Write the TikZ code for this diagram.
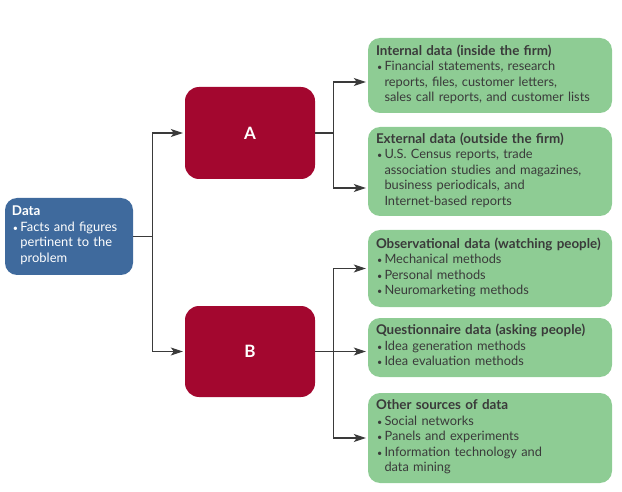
\documentclass[tikz,border=0pt]{standalone}
\usepackage{fontspec}
\setmainfont{Lato}
\usetikzlibrary{arrows.meta,positioning}
\definecolor{datablue}{HTML}{3F6A9D}
\definecolor{wine}{HTML}{A3072F}
\definecolor{leaf}{HTML}{8ECC94}
\definecolor{ink}{HTML}{3A3A3A}
\newcommand{\bul}[1]{\par\noindent\makebox[8.5pt][l]{\hspace{1pt}{\small\textbullet}}\begin{tabular}[t]{@{}l@{}}#1\end{tabular}}
\newcommand{\hd}[1]{{\fontsize{13.4}{15.5}\selectfont\bfseries #1}}
\tikzset{
  grp/.style={rounded corners=12pt, fill=leaf, text=ink, text width=228pt,
    align=left, inner xsep=8pt, inner ysep=3pt, font=\fontsize{12.8}{15.5}\selectfont},
  kind/.style={rounded corners=14pt, fill=wine, text=white, minimum width=130pt,
    minimum height=92pt, font=\fontsize{17}{20}\selectfont\bfseries},
  conn/.style={draw=ink, line width=1.1pt},
  tip/.style={conn, -{Stealth[length=12pt,width=8pt,inset=3pt]}, shorten >=2pt}
}
\begin{document}
\begin{tikzpicture}[x=1pt,y=-1pt]
  \useasboundingbox (0,0) rectangle (622,492);
  \node[rounded corners=12pt, fill=datablue, text=white, text width=114pt, align=left,
    inner xsep=7pt, minimum height=77pt, font=\fontsize{12.9}{15.5}\selectfont] (data) at (69,236.5)
    {\hd{Data}\bul{Facts and figures\\pertinent to the\\problem}};
  \node[kind] (A) at (250,133) {A};
  \node[kind, minimum height=91pt] (B) at (250,351.5) {B};
  % secondary sources
  \node[grp, minimum height=75pt] (int) at (490,75.5)
    {\hd{Internal data (inside the firm)}
     \bul{Financial statements, research\\reports, files, customer letters,\\sales call reports, and customer lists}};
  \node[grp, minimum height=89pt] (ext) at (490,171.5)
    {\hd{External data (outside the firm)}
     \bul{U.S. Census reports, trade\\association studies and magazines,\\business periodicals, and\\Internet-based reports}};
  % primary sources
  \node[grp, minimum height=77pt] (obs) at (490,268.5)
    {\hd{Observational data (watching people)}
     \bul{Mechanical methods}\bul{Personal methods}\bul{Neuromarketing methods}};
  \node[grp, minimum height=59pt] (que) at (490,347.5)
    {\hd{Questionnaire data (asking people)}
     \bul{Idea generation methods}\bul{Idea evaluation methods}};
  \node[grp, minimum height=90pt] (oth) at (490,438)
    {\hd{Other sources of data}
     \bul{Social networks}\bul{Panels and experiments}\bul{Information technology and\\data mining}};
  % connectors
  \draw[conn] (data.east) -- ++(19,0) coordinate (split);
  \draw[tip] (split) |- (A.west);
  \draw[tip] (split) |- (B.west);
  \draw[conn] (A.east) -- ++(18,0) coordinate (ja);
  \draw[tip] (ja) |- ([yshift=-6.5pt]int.west);
  \draw[tip] (ja) |- ([yshift=-16.5pt]ext.west);
  \draw[tip] (B.east) -- (B.east -| que.west);
  \path (B.east) ++(18,0) coordinate (jb);
  \draw[tip] (jb) |- (obs.west);
  \draw[tip] (jb) |- (oth.west);
\end{tikzpicture}
\end{document}
